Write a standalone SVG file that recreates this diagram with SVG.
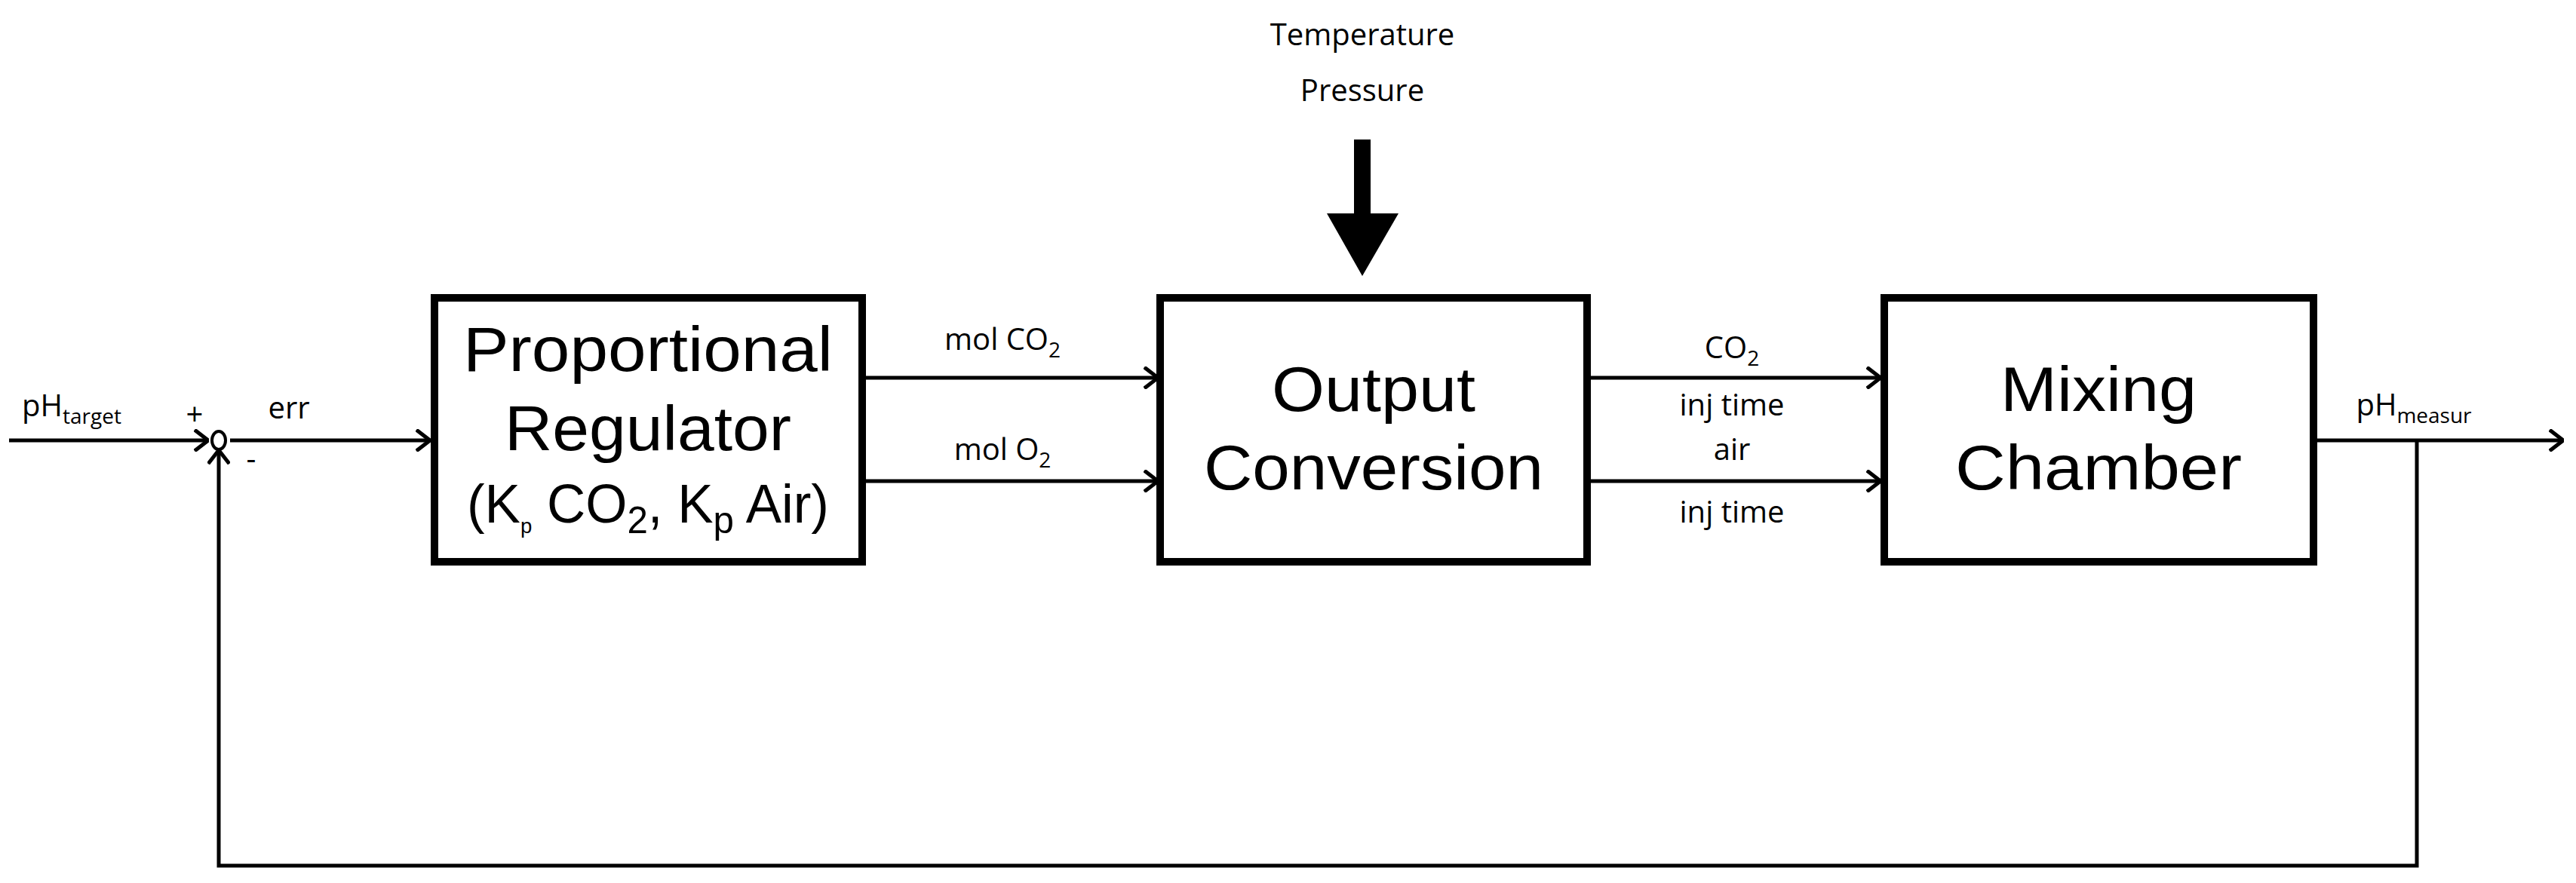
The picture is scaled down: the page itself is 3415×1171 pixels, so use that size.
<svg xmlns="http://www.w3.org/2000/svg" width="3415" height="1171" viewBox="0 0 3415 1171">
<style>
.box{fill:#fff;stroke:#000;stroke-width:10}
.ln{fill:none;stroke:#000;stroke-width:5}
.big{font-family:"Liberation Sans",Arial,sans-serif;font-size:84px;text-anchor:middle}
.mid{font-family:"Liberation Sans",Arial,sans-serif;font-size:72px;text-anchor:middle}
.lab{font-family:"Open Sans","Liberation Sans",sans-serif;font-size:40px;text-anchor:middle}
.sub{font-size:28px}
</style>
<defs>
<marker id="ah" viewBox="0 0 20 30" refX="19" refY="15" markerWidth="20" markerHeight="30" markerUnits="userSpaceOnUse" orient="auto">
<path d="M1,1 L19,15 L1,29" fill="none" stroke="#000" stroke-width="5"/>
</marker>
</defs>
<rect width="3415" height="1171" fill="#fff"/>
<g id="connectors">
<line class="ln" x1="12" y1="584" x2="276" y2="584" marker-end="url(#ah)"/>
<line class="ln" x1="305" y1="584" x2="570" y2="584" marker-end="url(#ah)"/>
<line class="ln" x1="1148" y1="501" x2="1535" y2="501" marker-end="url(#ah)"/>
<line class="ln" x1="1148" y1="638" x2="1535" y2="638" marker-end="url(#ah)"/>
<line class="ln" x1="2109" y1="501" x2="2493" y2="501" marker-end="url(#ah)"/>
<line class="ln" x1="2109" y1="638" x2="2493" y2="638" marker-end="url(#ah)"/>
<line class="ln" x1="3072" y1="584" x2="3398" y2="584" marker-end="url(#ah)"/>
<polyline class="ln" points="3204,584 3204,1148 290,1148 290,597" marker-end="url(#ah)"/>
<polygon points="1795,185 1817,185 1817,283 1854,283 1806,366 1759,283 1795,283" fill="#000"/>
</g>
<g id="sum">
<ellipse cx="290" cy="584" rx="9" ry="12" fill="none" stroke="#000" stroke-width="4"/>
<text class="lab" x="258" y="564">+</text>
<text class="lab" x="333" y="622">-</text>
</g>
<g id="regulator">
<rect class="box" x="576" y="395" width="567" height="350"/>
<text class="big" x="859" y="492" textLength="490" lengthAdjust="spacingAndGlyphs">Proportional</text>
<text class="big" x="859" y="597" textLength="380" lengthAdjust="spacingAndGlyphs">Regulator</text>
<text class="mid" x="859" y="693" textLength="480" lengthAdjust="spacingAndGlyphs">(K<tspan class="sub" dy="14" font-size="50">p</tspan><tspan dy="-14"> CO</tspan><tspan dy="14" font-size="50">2</tspan><tspan dy="-14">, K</tspan><tspan dy="14" font-size="50">p</tspan><tspan dy="-14"> Air)</tspan></text>
</g>
<g id="conversion">
<rect class="box" x="1538" y="395" width="566" height="350"/>
<text class="big" x="1821" y="545" textLength="270" lengthAdjust="spacingAndGlyphs">Output</text>
<text class="big" x="1821" y="649" textLength="450" lengthAdjust="spacingAndGlyphs">Conversion</text>
</g>
<g id="mixing">
<rect class="box" x="2498" y="395" width="569" height="350"/>
<text class="big" x="2782" y="545" textLength="260" lengthAdjust="spacingAndGlyphs">Mixing</text>
<text class="big" x="2782" y="649" textLength="380" lengthAdjust="spacingAndGlyphs">Chamber</text>
</g>
<g id="labels">
<text class="lab" x="1806" y="60">Temperature</text>
<text class="lab" x="1806" y="134">Pressure</text>
<text class="lab" x="1329" y="464">mol CO<tspan class="sub" dy="10">2</tspan></text>
<text class="lab" x="1329" y="610">mol O<tspan class="sub" dy="10">2</tspan></text>
<text class="lab" x="2296" y="475">CO<tspan class="sub" dy="10">2</tspan></text>
<text class="lab" x="2296" y="551">inj time</text>
<text class="lab" x="2296" y="610">air</text>
<text class="lab" x="2296" y="693">inj time</text>
<text class="lab" x="95" y="552">pH<tspan class="sub" dy="10">target</tspan></text>
<text class="lab" x="383" y="555">err</text>
<text class="lab" x="3200" y="551">pH<tspan class="sub" dy="10">measur</tspan></text>
</g>
</svg>
